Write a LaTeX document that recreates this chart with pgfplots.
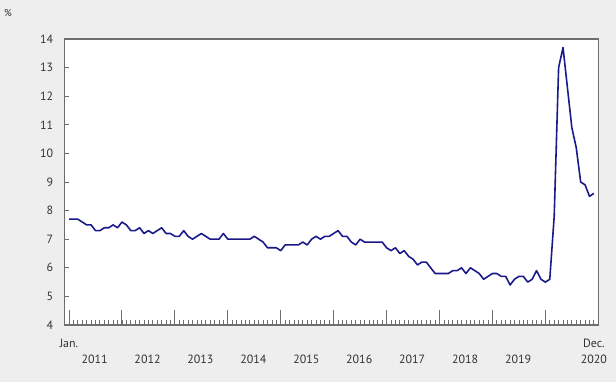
\documentclass[border=0pt]{standalone}
\usepackage{pgfplots}
\pgfplotsset{compat=1.18}
\usepackage{fontspec}
\setmainfont{PT Sans}
\definecolor{bg}{RGB}{238,238,238}
\definecolor{frame}{RGB}{110,110,110}
\definecolor{txt}{RGB}{51,51,51}
\definecolor{line}{RGB}{25,25,140}
\pgfplotstableread{
i v
0 7.7
1 7.7
2 7.7
3 7.6
4 7.5
5 7.5
6 7.3
7 7.3
8 7.4
9 7.4
10 7.5
11 7.4
12 7.6
13 7.5
14 7.3
15 7.3
16 7.4
17 7.2
18 7.3
19 7.2
20 7.3
21 7.4
22 7.2
23 7.2
24 7.1
25 7.1
26 7.3
27 7.1
28 7.0
29 7.1
30 7.2
31 7.1
32 7.0
33 7.0
34 7.0
35 7.2
36 7.0
37 7.0
38 7.0
39 7.0
40 7.0
41 7.0
42 7.1
43 7.0
44 6.9
45 6.7
46 6.7
47 6.7
48 6.6
49 6.8
50 6.8
51 6.8
52 6.8
53 6.9
54 6.8
55 7.0
56 7.1
57 7.0
58 7.1
59 7.1
60 7.2
61 7.3
62 7.1
63 7.1
64 6.9
65 6.8
66 7.0
67 6.9
68 6.9
69 6.9
70 6.9
71 6.9
72 6.7
73 6.6
74 6.7
75 6.5
76 6.6
77 6.4
78 6.3
79 6.1
80 6.2
81 6.2
82 6.0
83 5.8
84 5.8
85 5.8
86 5.8
87 5.9
88 5.9
89 6.0
90 5.8
91 6.0
92 5.9
93 5.8
94 5.6
95 5.7
96 5.8
97 5.8
98 5.7
99 5.7
100 5.4
101 5.6
102 5.7
103 5.7
104 5.5
105 5.6
106 5.9
107 5.6
108 5.5
109 5.6
110 7.8
111 13.0
112 13.7
113 12.3
114 10.9
115 10.2
116 9.0
117 8.9
118 8.5
119 8.6
}\rate
\begin{document}
\begin{tikzpicture}
\fill[bg] (0,0) rectangle (616bp,382bp);
\path[use as bounding box] (0,0) rectangle (616bp,382bp);
\node[text=txt, font=\fontsize{10}{12}\selectfont] at (8bp,368.5bp) {\%};
\begin{axis}[
  at={(64.3bp,57bp)}, anchor=south west,
  scale only axis, width=534bp, height=286bp,
  xmin=-1.07, xmax=120, ymin=4, ymax=14,
  axis background/.style={fill=white},
  axis line style={frame, line width=1.2pt},
  ytick={4,...,14},
  ytick pos=left, xtick pos=bottom,
  tick align=inside,
  major tick length=4.5bp,
  tick style={frame, line width=0.8pt},
  yticklabel style={text=txt, font=\fontsize{12}{14}\selectfont, inner sep=0pt, xshift=-11bp},
  /pgf/number format/assume math mode=true,
  xtick={0,...,119},
  xticklabels={},
  extra x ticks={0,12,...,108},
  extra x tick labels={},
  extra tick style={major tick length=15bp, tick style={frame, line width=0.9pt}},
  clip=false,
]
\addplot[line, line width=1.6pt, line join=round] table[x=i, y=v] {\rate};
\foreach \k/\yr in {0/2011,1/2012,2/2013,3/2014,4/2015,5/2016,6/2017,7/2018,8/2019}{
  \edef\temp{\noexpand\node[text=txt, font=\noexpand\fontsize{12}{14}\noexpand\selectfont] at (axis cs:{5.8+12*\k},4) [yshift=-34bp] {\yr};}
  \temp
}
\node[text=txt, font=\fontsize{12}{14}\selectfont] at (axis cs:0,4) [yshift=-18bp] {Jan.};
\node[text=txt, font=\fontsize{12}{14}\selectfont] at (axis cs:119,4) [yshift=-18bp] {Dec.};
\node[text=txt, font=\fontsize{12}{14}\selectfont] at (axis cs:119,4) [yshift=-34bp] {2020};
\end{axis}
\end{tikzpicture}
\end{document}
